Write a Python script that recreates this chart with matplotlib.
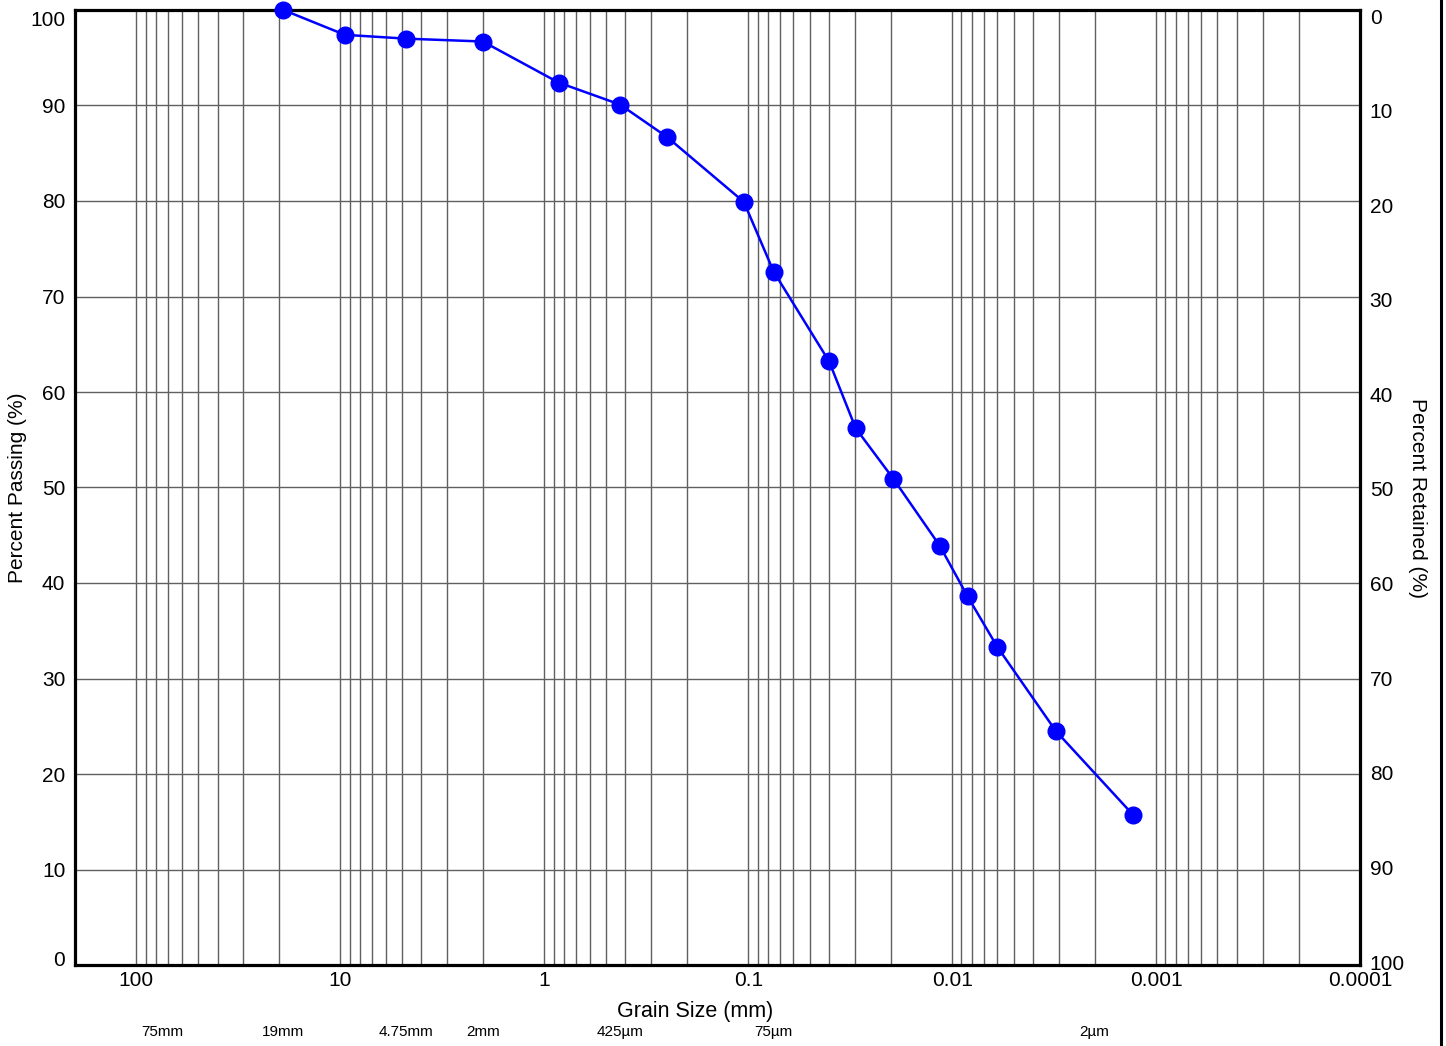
import matplotlib
matplotlib.use("Agg")
import matplotlib.pyplot as plt
from matplotlib.ticker import FixedLocator, FixedFormatter, LogLocator, NullFormatter
from matplotlib.transforms import ScaledTranslation, blended_transform_factory
from matplotlib.lines import Line2D

plt.rcParams['font.family'] = ['Liberation Sans', 'DejaVu Sans']

# ---- data ----
grain_size_mm = [19, 9.5, 4.75, 2.0, 0.85, 0.425, 0.25, 0.105, 0.075,
                 0.0401, 0.0297, 0.0194, 0.0115, 0.0084, 0.0060, 0.0031, 0.0013]
percent_passing = [100.0, 97.4, 97.0, 96.7, 92.4, 90.1, 86.7, 79.9, 72.6,
                   63.2, 56.2, 50.9, 43.9, 38.6, 33.3, 24.5, 15.75]
x_ticks = [100, 10, 1, 0.1, 0.01, 0.001, 0.0001]
x_tick_labels = ["100", "10", "1", "0.1", "0.01", "0.001", "0.0001"]
y_ticks = [0, 10, 20, 30, 40, 50, 60, 70, 80, 90, 100]
sieve_sizes = [75, 19, 4.75, 2, 0.425, 0.075, 0.002]
sieve_labels = ["75mm", "19mm", "4.75mm", "2mm", "425µm", "75µm", "2µm"]

W, H, DPI = 1446, 1046, 100
fig = plt.figure(figsize=(W / DPI, H / DPI), dpi=DPI)
ax = fig.add_axes([75 / W, (H - 965) / H, (1360 - 75) / W, (965 - 10) / H])

ax.set_xscale('log')
ax.set_xlim(200, 0.0001)
ax.set_ylim(0, 100)

grid_col = '#606060'
ax.xaxis.set_major_locator(FixedLocator(x_ticks))
ax.xaxis.set_major_formatter(FixedFormatter(x_tick_labels))
ax.xaxis.set_minor_locator(LogLocator(base=10, subs=range(2, 10), numticks=50))
ax.xaxis.set_minor_formatter(NullFormatter())
ax.set_yticks(y_ticks)
ax.grid(True, which='both', axis='x', color=grid_col, lw=1.0)
ax.grid(True, which='major', axis='y', color=grid_col, lw=1.0)
ax.set_axisbelow(True)
ax.tick_params(axis='both', which='both', length=0, labelsize=15)
ax.tick_params(axis='x', pad=4)
ax.tick_params(axis='y', pad=7)

for sp in ax.spines.values():
    sp.set_linewidth(2.3)
    sp.set_color('black')

ax.plot(grain_size_mm, percent_passing, color='#0000ff', lw=1.8,
        marker='o', markersize=12, clip_on=False, zorder=5)

# left label offsets (edge labels nudged inside)
for lab in ax.get_yticklabels():
    t = lab.get_text()
    if t == '100':
        lab.set_transform(lab.get_transform() + ScaledTranslation(0, -8 / DPI, fig.dpi_scale_trans))
    elif t == '0':
        lab.set_transform(lab.get_transform() + ScaledTranslation(0, 6 / DPI, fig.dpi_scale_trans))

# right axis: percent retained
ax2 = ax.twinx()
ax2.set_ylim(100, 0)
ax2.set_yticks(y_ticks)
ax2.tick_params(axis='y', length=0, labelsize=15, pad=7)
for sp in ax2.spines.values():
    sp.set_visible(False)
for i, lab in enumerate(ax2.get_yticklabels()):
    off = 6 - 0.9 * i
    lab.set_transform(lab.get_transform() + ScaledTranslation(0, -off / DPI, fig.dpi_scale_trans))

fig.text(18 / W, 1 - 488 / H, "Percent Passing (%)", rotation=90,
         ha='center', va='center', fontsize=15)
fig.text(1418 / W, 1 - 498 / H, "Percent Retained (%)", rotation=270,
         ha='center', va='center', fontsize=15)
fig.text(695 / W, 1 - 1012 / H, "Grain Size (mm)", ha='center', va='center', fontsize=15.5)

trans = blended_transform_factory(ax.transData, fig.transFigure)
for s, lbl in zip(sieve_sizes, sieve_labels):
    ax.text(s, 1 - 1032 / H, lbl, transform=trans, ha='center', va='center',
            fontsize=11, clip_on=False)

fig.add_artist(Line2D([1440.5 / W] * 2, [0, 1], transform=fig.transFigure,
                      color='black', lw=2.2))

fig.savefig("out.png", dpi=DPI)
